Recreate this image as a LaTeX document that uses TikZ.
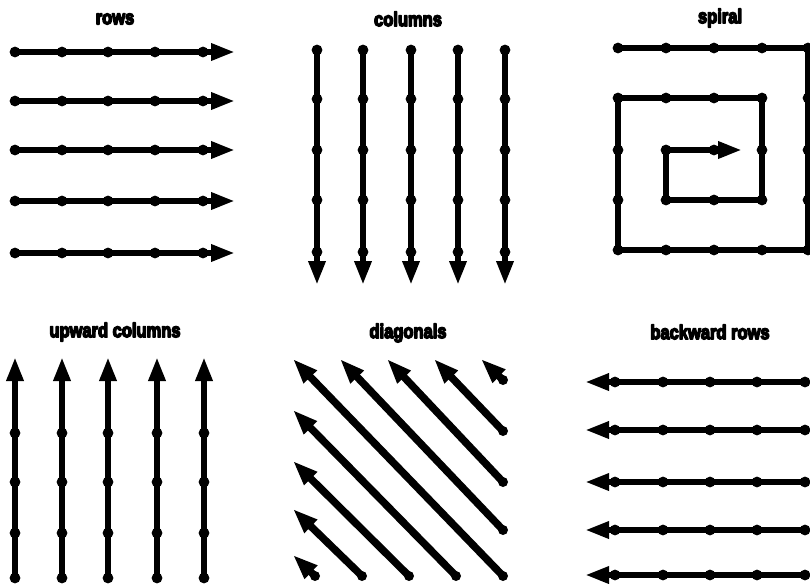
\documentclass[tikz,border=0pt]{standalone}
\usepackage{fontspec}
\setmainfont{Liberation Sans}
\usetikzlibrary{arrows.meta,calc}
\newcommand{\heavy}[1]{\special{pdf:literal direct q 2 Tr 1.3 w 1 j}#1\special{pdf:literal direct Q}}
\tikzset{
  scan/.style={line width=6.5pt, line cap=round, line join=round},
  scanarrow/.style={scan, -{Triangle[length=24pt,width=16pt]}},
  diagarrow/.style={line width=7.5pt, line cap=round, -{Triangle[length=25pt,width=17pt]}},
  ttl/.style={font=\fontsize{16.5}{16.5}\selectfont\bfseries, inner sep=0pt, yscale=1.2, transform shape}
}
\newcommand{\gdot}[1]{\fill (#1) circle (5.4);}
\begin{document}
\begin{tikzpicture}[x=1pt,y=-1pt]
\useasboundingbox (0,0) rectangle (810,583);

% titles
\node[ttl] (t1) at (115,19) {\heavy{rows}};
\node[ttl] (t2) at (408,19) {\heavy{columns}};
\node[ttl] (t3) at (720,18) {\heavy{spiral}};
\node[ttl] (t4) at (115,332) {\heavy{upward columns}};
\node[ttl] (t5) at (408,333) {\heavy{diagonals}};
\node[ttl] (t6) at (710,332) {\heavy{backward rows}};

% rows
\foreach \j/\y in {1/52,2/101,3/150,4/201,5/253}{
  \foreach \i/\x in {1/15,2/62,3/108,4/155,5/203}{
    \coordinate (ra\j\i) at (\x,\y);
  }
  \coordinate (rat\j) at (235,\y);
  \draw[scanarrow] (ra\j1) -- (rat\j);
  \foreach \i in {1,...,5} {\gdot{ra\j\i}}
}

% columns
\foreach \i/\x in {1/317,2/363,3/411,4/458,5/505}{
  \foreach \j/\y in {1/50,2/99,3/150,4/200,5/252}{
    \coordinate (cb\i\j) at (\x,\y);
  }
  \coordinate (cbt\i) at (\x,285);
  \draw[scanarrow] (cb\i1) -- (cbt\i);
  \foreach \j in {1,...,5} {\gdot{cb\i\j}}
}

% spiral
\foreach \i/\x in {1/618,2/666,3/714,4/762,5/808}{
  \foreach \j/\y in {1/48,2/98,3/150,4/200,5/250}{
    \coordinate (sp\i\j) at (\x,\y);
  }
}
\coordinate (spt) at (742,150);
\draw[scanarrow] (sp11) -- (sp51) -- (sp55) -- (sp15) -- (sp12) -- (sp42)
  -- (sp44) -- (sp24) -- (sp23) -- (spt);
\foreach \i in {1,...,5}{\foreach \j in {1,...,5}{\gdot{sp\i\j}}}

% upward columns
\foreach \i/\x in {1/15,2/62,3/108,4/157,5/204}{
  \foreach \j/\y in {1/382,2/433,3/482,4/533,5/578}{
    \coordinate (uc\i\j) at (\x,\y);
  }
  \coordinate (uct\i) at (\x,357);
  \draw[scanarrow] (uc\i5) -- (uct\i);
  \foreach \j in {2,...,5} {\gdot{uc\i\j}}
}

% diagonals
\foreach \i/\x in {1/315,2/362,3/409,4/456,5/503}{
  \foreach \j/\y in {1/380,2/431,3/482,4/530,5/576}{
    \coordinate (dg\i\j) at (\x,\y);
  }
}
\foreach \s/\e in {51/51,52/41,53/31,54/21,55/11,45/12,35/13,25/14,15/15}{
  \coordinate (dgt\e) at ($(dg\e)+(-22,-21)$);
  \draw[diagarrow] (dg\s) -- (dgt\e);
  \fill (dg\s) circle (5);
}

% backward rows
\foreach \j/\y in {1/382,2/430,3/482,4/530,5/575}{
  \foreach \i/\x in {1/615,2/663,3/710,4/757,5/805}{
    \coordinate (br\j\i) at (\x,\y);
  }
  \coordinate (brt\j) at (585,\y);
  \draw[scanarrow] (br\j5) -- (brt\j);
  \foreach \i in {1,...,5} {\gdot{br\j\i}}
}
\end{tikzpicture}
\end{document}
